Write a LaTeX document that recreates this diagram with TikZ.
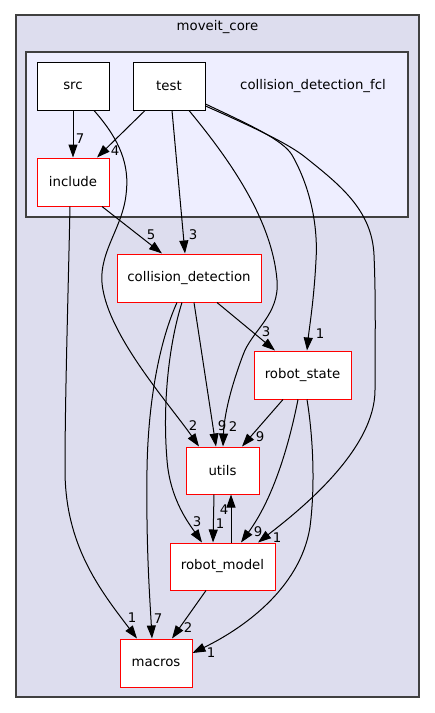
\documentclass[tikz,border=0pt]{standalone}
\usepackage{fontspec}
\setmainfont{DejaVu Sans}
\usetikzlibrary{arrows.meta}
\definecolor{outerfill}{HTML}{DDDDEE}
\definecolor{innerfill}{HTML}{EEEEFF}
\definecolor{clusterpen}{HTML}{404040}
\begin{document}
\begin{tikzpicture}[x=1pt,y=-1pt,
  font=\fontsize{13.3}{16}\selectfont,
  cluster/.style={draw=clusterpen,line width=1.2pt},
  dirbox/.style={draw=red,fill=white,line width=1pt,minimum height=48pt,inner sep=0pt},
  topbox/.style={draw=black,fill=white,line width=1pt,minimum height=48pt,inner sep=0pt},
  dep/.style={draw=black,line width=1pt,-{Triangle[length=13pt,width=9pt]}},
  lab/.style={inner sep=0pt}]
\useasboundingbox (0,0) rectangle (435,713);
\fill[white] (0,0) rectangle (435,713);
% clusters
\draw[cluster,fill=outerfill] (16,15) rectangle (419,697);
\node[lab] (outerlab) at (217.5,27) {moveit\_core};
\draw[cluster,fill=innerfill] (26,52) rectangle (408,217);
\node[lab] (innerlab) at (313,86) {collision\_detection\_fcl};
% nodes
\node[topbox,minimum width=72pt] (src) at (73,86) {src};
\node[topbox,minimum width=72pt] (test) at (169,86) {test};
\node[dirbox,minimum width=72pt] (include) at (73,182) {include};
\node[dirbox,minimum width=144pt] (cd) at (189,278) {collision\_detection};
\node[dirbox,minimum width=97pt] (rs) at (302.5,375) {robot\_state};
\node[dirbox,minimum width=73pt,minimum height=47pt] (utils) at (222.5,470.5) {utils};
\node[dirbox,minimum width=105pt,minimum height=47pt] (rm) at (222.5,566.5) {robot\_model};
\node[dirbox,minimum width=72pt] (macros) at (156,663) {macros};
% edges
\draw[dep] (src.south) -- (include.north);
\node[lab] (l1) at (80,139) {7};
\draw[dep] ([xshift=-24pt]test.south) -- ([xshift=24pt]include.north);
\node[lab] (l2) at (115,151) {4};
\draw[dep] ([xshift=21pt]src.south) .. controls (120,140) and (130,165) .. (126,195)
  .. controls (122,230) and (96,255) .. (103,290)
  .. controls (112,340) and (170,405) .. ([xshift=-23.5pt]utils.north);
\node[lab] (l3) at (193,426) {2};
\draw[dep] ([xshift=3pt]test.south) -- ([xshift=-4pt]cd.north);
\node[lab] (l4) at (193,235) {3};
\draw[dep] ([xshift=20pt]test.south) .. controls (230,160) and (272,220) .. (277,280)
  .. controls (280,315) and (252,330) .. (243,355)
  .. controls (228,395) and (224,420) .. ([xshift=0.5pt]utils.north);
\node[lab] (l5) at (233,427) {2};
\draw[dep] ([yshift=-18pt]test.east) .. controls (250,125) and (283,140) .. (292,155)
  .. controls (312,190) and (318,230) .. (316,260)
  .. controls (314,300) and (309,330) .. ([xshift=4.5pt]rs.north);
\node[lab] (l6) at (320,334) {1};
\draw[dep] ([yshift=-20pt]test.east) .. controls (260,130) and (290,145) .. (305,157)
  .. controls (340,185) and (372,210) .. (374,255)
  .. controls (376,300) and (375,350) .. (375,390)
  .. controls (375,450) and (300,510) .. ([xshift=35.5pt]rm.north);
\node[lab] (l7) at (277,538) {1};
\draw[dep] ([xshift=-3pt]include.south) .. controls (68,300) and (65,400) .. (65,470)
  .. controls (65,545) and (100,590) .. ([xshift=-19pt]macros.north);
\node[lab] (l8) at (132,618) {1};
\draw[dep] ([xshift=29pt]include.south) -- ([xshift=-27pt]cd.north);
\node[lab] (l9) at (151,235) {5};
\draw[dep] ([xshift=-12pt]cd.south) .. controls (160,340) and (148,400) .. (147,470)
  .. controls (146,550) and (150,600) .. ([xshift=-4pt]macros.north);
\node[lab] (l10) at (158,619) {7};
\draw[dep] ([xshift=-7pt]cd.south) .. controls (170,340) and (162,400) .. (167,460)
  .. controls (170,500) and (190,525) .. ([xshift=-20.5pt]rm.north);
\node[lab] (l11) at (197,522) {3};
\draw[dep] ([xshift=5pt]cd.south) -- ([xshift=-6.5pt]utils.north);
\node[lab] (l12) at (222,426) {9};
\draw[dep] ([xshift=28pt]cd.south) -- ([xshift=-27.5pt]rs.north);
\node[lab] (l13) at (266,332) {3};
\draw[dep] ([xshift=-19.5pt]rs.south) -- ([xshift=19.5pt]utils.north);
\node[lab] (l14) at (260,437) {9};
\draw[dep] ([xshift=-4.5pt]rs.south) .. controls (288,450) and (272,500) .. ([xshift=18.5pt]rm.north);
\node[lab] (l15) at (258,532) {9};
\draw[dep] ([xshift=4.5pt]rs.south) .. controls (312,430) and (316,480) .. (310,527)
  .. controls (300,590) and (240,630) .. ([yshift=10pt]macros.east);
\node[lab] (l16) at (211,653) {1};
\draw[dep] ([xshift=-8.5pt]utils.south) -- ([xshift=-9.5pt]rm.north);
\node[lab] (l17) at (220,524) {1};
\draw[dep] ([xshift=8.5pt]rm.north) -- ([xshift=8.5pt]utils.south);
\node[lab] (l18) at (224,510) {4};
\draw[dep] ([xshift=-16.5pt]rm.south) -- ([xshift=16pt]macros.north);
\node[lab] (l19) at (188,628) {2};
\end{tikzpicture}
\end{document}
